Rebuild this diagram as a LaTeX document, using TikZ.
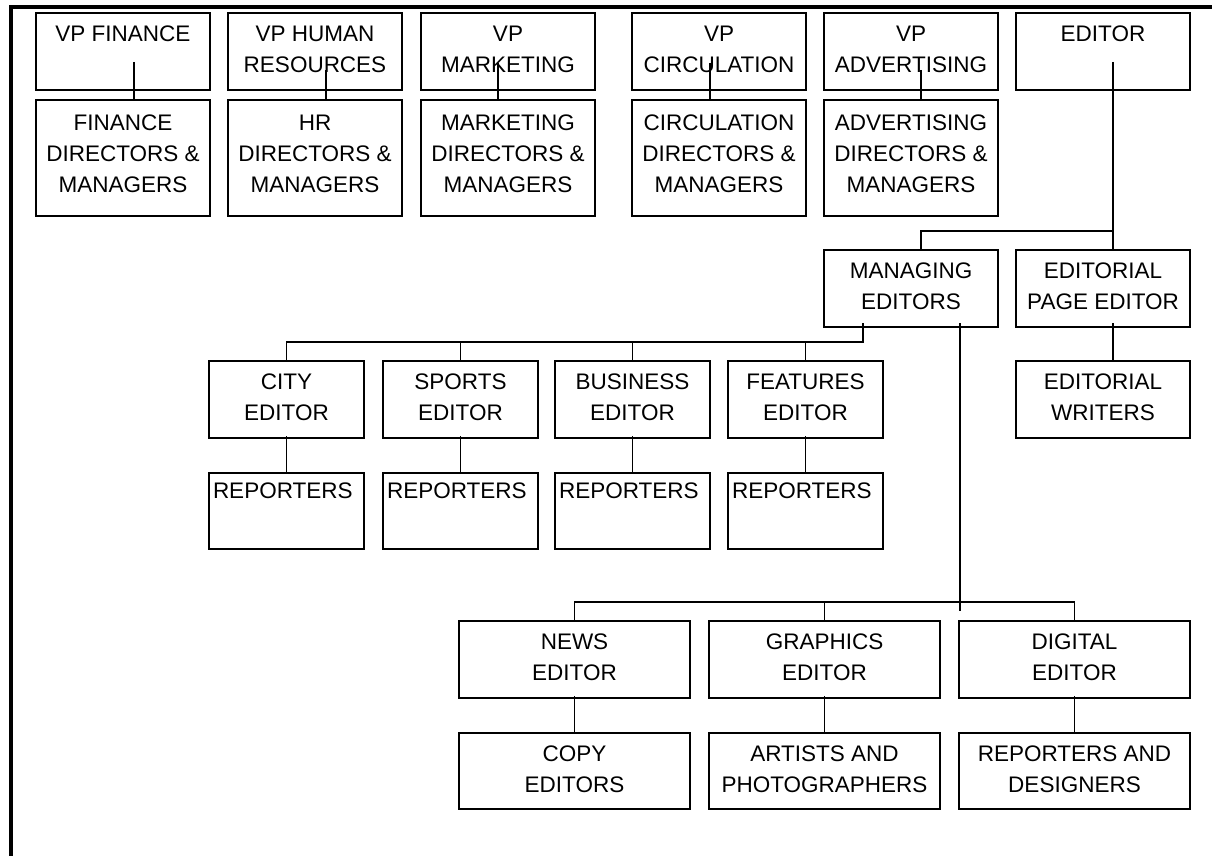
\documentclass[tikz,border=0pt]{standalone}
\usepackage{fontspec}
\setmainfont{Liberation Sans}
\begin{document}
\begin{tikzpicture}[x=1pt,y=-1pt,
  box/.style={draw, line width=1.8pt, inner sep=0pt, outer sep=0pt, anchor=north west},
  txt/.style={inner sep=0pt, outer sep=0pt, anchor=north, align=center, font=\fontsize{22.5}{31}\selectfont},
  ltxt/.style={inner sep=0pt, outer sep=0pt, anchor=north west, font=\fontsize{22.5}{31}\selectfont},
  conn/.style={line width=1.8pt},
  frame/.style={line width=4pt}]
\useasboundingbox (0,0) rectangle (1212,856);
\newcommand{\obox}[7][13]{%
  \node[box, minimum width=#5pt, minimum height=#6pt] (#2) at (#3,#4) {};
  \node[txt] (#2t) at ([yshift=-#1pt]#2.north) {#7};}
\newcommand{\rbox}[3]{%
  \node[box, minimum width=155pt, minimum height=76pt] (#1) at (#2,#3) {};
  \node[ltxt] (#1t) at ([xshift=4pt,yshift=-10pt]#1.north west) {REPORTERS};}
% frame
\coordinate (fbl) at (11,856);
\coordinate (ftl) at (11,7);
\coordinate (ftr) at (1212,7);
\draw[frame] (fbl) -- (ftl) -- (ftr);
% row 1
\obox{vpf}{36}{13}{174}{77}{VP FINANCE}
\obox{vphr}{228}{13}{174}{77}{VP HUMAN\\RESOURCES}
\obox{vpm}{421}{13}{174}{77}{VP\\MARKETING}
\obox{vpc}{632}{13}{174}{77}{VP\\CIRCULATION}
\obox{vpa}{824}{13}{174}{77}{VP\\ADVERTISING}
\obox{ed}{1016}{13}{174}{77}{EDITOR}
% row 2
\obox[15]{fin}{36}{100}{174}{116}{FINANCE\\DIRECTORS \&\\MANAGERS}
\obox[15]{hr}{228}{100}{174}{116}{HR\\DIRECTORS \&\\MANAGERS}
\obox[15]{mkt}{421}{100}{174}{116}{MARKETING\\DIRECTORS \&\\MANAGERS}
\obox[15]{circ}{632}{100}{174}{116}{CIRCULATION\\DIRECTORS \&\\MANAGERS}
\obox[15]{adv}{824}{100}{174}{116}{ADVERTISING\\DIRECTORS \&\\MANAGERS}
% editorial
\obox{me}{824}{250}{174}{77}{MANAGING\\EDITORS}
\obox{epe}{1016}{250}{174}{77}{EDITORIAL\\PAGE EDITOR}
\obox{ew}{1016}{361}{174}{77}{EDITORIAL\\WRITERS}
% desks
\obox{city}{209}{361}{155}{77}{CITY\\EDITOR}
\obox{sports}{383}{361}{155}{77}{SPORTS\\EDITOR}
\obox{bus}{555}{361}{155}{77}{BUSINESS\\EDITOR}
\obox{feat}{728}{361}{155}{77}{FEATURES\\EDITOR}
\rbox{rcity}{209}{473}
\rbox{rsports}{383}{473}
\rbox{rbus}{555}{473}
\rbox{rfeat}{728}{473}
% bottom
\obox{news}{459}{621}{231}{77}{NEWS\\EDITOR}
\obox{gfx}{709}{621}{231}{77}{GRAPHICS\\EDITOR}
\obox{dig}{959}{621}{231}{77}{DIGITAL\\EDITOR}
\obox{copy}{459}{733}{231}{76}{COPY\\EDITORS}
\obox{art}{709}{733}{231}{76}{ARTISTS AND\\PHOTOGRAPHERS}
\obox{rd}{959}{733}{231}{76}{REPORTERS AND\\DESIGNERS}
% connectors row1 -> row2
\draw[conn] ([xshift=11pt,yshift=28pt]vpf.south) -- ([xshift=11pt]fin.north);
\draw[conn] ([xshift=11pt,yshift=20pt]vphr.south) -- ([xshift=11pt]hr.north);
\draw[conn] ([xshift=-10pt,yshift=27pt]vpm.south) -- ([xshift=-10pt]mkt.north);
\draw[conn] ([xshift=-9pt,yshift=27pt]vpc.south) -- ([xshift=-9pt]circ.north);
\draw[conn] ([xshift=10pt,yshift=20pt]vpa.south) -- ([xshift=10pt]adv.north);
% editor
\coordinate (edj) at (1113,231);
\draw[conn] ([xshift=10pt,yshift=28pt]ed.south) -- ([xshift=10pt]epe.north);
\draw[conn] (edj) -| ([xshift=10pt]me.north);
\draw[conn] ([xshift=10pt,yshift=4pt]epe.south) -- ([xshift=10pt]ew.north);
% managing editors -> desks
\coordinate (mej) at (863,342);
\draw[conn] ([xshift=-48pt,yshift=4pt]me.south) -- (mej) -| (city.north);
\draw[conn] (sports.north) -- (sports.north |- mej);
\draw[conn] (bus.north) -- (bus.north |- mej);
\draw[conn] (feat.north) -- (feat.north |- mej);
\draw[conn] ([yshift=2pt]city.south) -- (rcity.north);
\draw[conn] ([yshift=2pt]sports.south) -- (rsports.north);
\draw[conn] ([yshift=2pt]bus.south) -- (rbus.north);
\draw[conn] ([yshift=2pt]feat.south) -- (rfeat.north);
% managing editors -> bottom desks
\coordinate (mebot) at (960,611);
\coordinate (mej2) at (960,602);
\draw[conn] ([xshift=49pt,yshift=4pt]me.south) -- (mebot);
\draw[conn] (news.north) |- (mej2) -| (dig.north);
\draw[conn] (gfx.north) -- (gfx.north |- mej2);
\draw[conn] ([yshift=2pt]news.south) -- (copy.north);
\draw[conn] ([yshift=2pt]gfx.south) -- (art.north);
\draw[conn] ([yshift=2pt]dig.south) -- (rd.north);
\end{tikzpicture}
\end{document}
